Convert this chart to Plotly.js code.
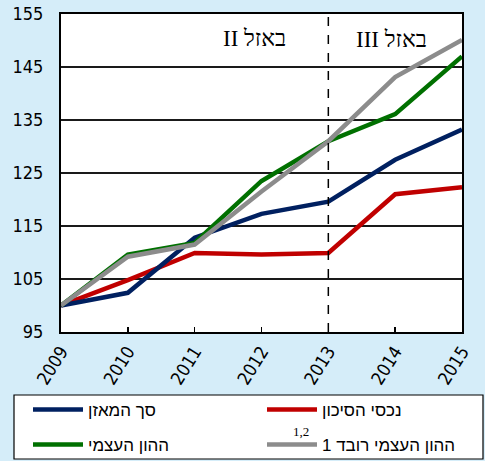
<!DOCTYPE html>
<html>
<head>
<meta charset="utf-8">
<script src="https://cdn.plot.ly/plotly-3.0.1.min.js"></script>
<style>html,body{margin:0;padding:0;background:#d5edf9;}#chart{width:485px;height:461px;}</style>
</head>
<body>
<div id="chart"></div>
<script>
const years = [2009, 2010, 2011, 2012, 2013, 2014, 2015];
const totalAssets = [100, 102.4, 112.8, 117.3, 119.6, 127.5, 133.2];
const riskAssets = [100, 104.8, 109.9, 109.6, 109.9, 121.0, 122.3];
const equity = [100, 109.6, 111.8, 123.5, 131.0, 136.1, 147.0];
const tier1Equity = [100, 109.2, 111.5, 121.5, 131.0, 143.1, 150.1];
const seriesNames = ['סך המאזן', 'נכסי הסיכון', 'ההון העצמי', '\u202Bההון העצמי רובד 1\u202C'];
const footnoteMark = '1,2';
const periodLabels = ['\u202Bבאזל II\u202C', '\u202Bבאזל III\u202C'];
const periodBreak = 2013;
const yTicks = [95, 105, 115, 125, 135, 145, 155];

const colors = ['#002060', '#c00000', '#007000', '#8c8c8c'];
const seriesData = [totalAssets, riskAssets, equity, tier1Equity];
const legendIds = ['legend', 'legend2', 'legend3', 'legend4'];

const traces = seriesData.map((vals, i) => ({
  x: years, y: vals, type: 'scatter', mode: 'lines', name: seriesNames[i],
  line: {color: colors[i], width: 4.5}, legend: legendIds[i], hoverinfo: 'skip'
}));
const drawOrder = [1, 0, 2, 3];

const W = 485, H = 461, ml = 61, mr = 23, mt = 14, mb = 129;
const pw = W - ml - mr, ph = H - mt - mb;
const px = v => (v - ml) / pw;
const py = v => (H - mb - v) / ph;

const legendCommon = {
  orientation: 'v', xanchor: 'left', yanchor: 'middle',
  bgcolor: 'rgba(0,0,0,0)', borderwidth: 0,
  font: {family: 'Liberation Sans, Arial, sans-serif', size: 17, color: '#000'},
  itemwidth: 50
};
const legendPos = [[28, 410], [262, 410], [28, 445], [262, 445]];

const layout = {
  width: W, height: H,
  margin: {l: ml, r: mr, t: mt, b: mb, pad: 0, autoexpand: false},
  paper_bgcolor: '#d5edf9', plot_bgcolor: '#ffffff',
  showlegend: true,
  xaxis: {
    range: [years[0], years[years.length - 1]], tickvals: years, ticktext: years.map(String),
    tickangle: -58, ticks: 'inside', ticklen: 5, tickwidth: 1.5, tickcolor: '#000',
    showgrid: false, zeroline: false, automargin: false,
    showline: true, linecolor: '#000', linewidth: 2, mirror: true,
    tickfont: {family: 'DejaVu Sans Condensed, DejaVu Sans, sans-serif', size: 18, color: '#000'}
  },
  yaxis: {
    range: [95, 155], tickvals: yTicks, ticks: '', showgrid: true, gridcolor: '#1a1a1a', gridwidth: 1.5,
    zeroline: false, showline: true, linecolor: '#000', linewidth: 2, mirror: true, automargin: false,
    ticklabelstandoff: 12,
    tickfont: {family: 'DejaVu Sans Condensed, DejaVu Sans, sans-serif', size: 18, color: '#000'}
  },
  shapes: [
    {type: 'line', xref: 'x', yref: 'paper', x0: periodBreak, x1: periodBreak, y0: 0, y1: 1,
     line: {color: '#000', width: 1.5, dash: 'dash'}, layer: 'above'},
    {type: 'rect', xref: 'paper', yref: 'paper', x0: px(14), x1: px(483), y0: py(459), y1: py(395),
     line: {color: '#000', width: 1.2}, fillcolor: '#ffffff', layer: 'below'}
  ],
  annotations: [
    {x: 2011.9, y: 150.4, xref: 'x', yref: 'y', text: periodLabels[0], showarrow: false,
     font: {family: 'Liberation Serif, Times New Roman, serif', size: 23, color: '#000'}},
    {x: 2013.95, y: 150.1, xref: 'x', yref: 'y', text: periodLabels[1], showarrow: false,
     font: {family: 'Liberation Serif, Times New Roman, serif', size: 23, color: '#000'}},
    {x: px(301), y: py(431), xref: 'paper', yref: 'paper', xanchor: 'center', yanchor: 'middle',
     text: footnoteMark, showarrow: false,
     font: {family: 'Liberation Serif, Times New Roman, serif', size: 13, color: '#000'}}
  ]
};
legendIds.forEach((id, i) => {
  layout[id] = Object.assign({}, legendCommon, {x: px(legendPos[i][0]), y: py(legendPos[i][1])});
});

Plotly.newPlot('chart', drawOrder.map(i => traces[i]), layout, {displayModeBar: false, staticPlot: true});
</script>
</body>
</html>
